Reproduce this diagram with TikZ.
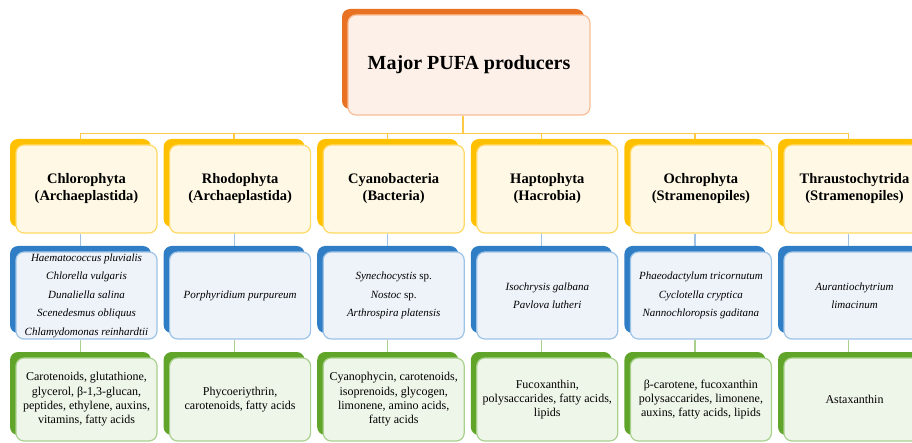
\documentclass[tikz,border=0pt]{standalone}
\usepackage{fontspec}
\setmainfont{Liberation Serif}
\usetikzlibrary{shadows,backgrounds}
\definecolor{topback}{RGB}{233,114,34}
\definecolor{topfill}{RGB}{253,240,232}
\definecolor{topline}{RGB}{248,190,150}
\definecolor{yelback}{RGB}{255,192,0}
\definecolor{yelfill}{RGB}{254,248,228}
\definecolor{yelline}{RGB}{255,217,102}
\definecolor{yelconn}{RGB}{255,200,70}
\definecolor{bluback}{RGB}{46,125,197}
\definecolor{blufill}{RGB}{238,243,250}
\definecolor{bluline}{RGB}{157,195,230}
\definecolor{grnback}{RGB}{96,165,42}
\definecolor{grnfill}{RGB}{238,245,233}
\definecolor{grnline}{RGB}{169,209,142}
\tikzset{
  box/.style={rounded corners=8pt, line width=1.2pt, align=center,
    minimum width=141pt, inner sep=0pt},
  topbox/.style={box, draw=topline, fill=topfill, minimum width=242pt,
    minimum height=100pt, font=\fontsize{20}{24}\selectfont\bfseries,
    general shadow={fill=topback, shadow xshift=-6pt, shadow yshift=6pt}},
  groupbox/.style={box, draw=yelline, fill=yelfill, minimum height=88pt,
    font=\fontsize{14.5}{17}\selectfont\bfseries,
    general shadow={fill=yelback, shadow xshift=-6pt, shadow yshift=6pt}},
  speciesbox/.style={box, draw=bluline, fill=blufill, minimum height=87pt,
    font=\fontsize{11}{18.5}\selectfont\itshape,
    general shadow={fill=bluback, shadow xshift=-6pt, shadow yshift=6pt}},
  productbox/.style={box, draw=grnline, fill=grnfill, minimum height=83pt,
    font=\fontsize{12}{14.3}\selectfont,
    general shadow={fill=grnback, shadow xshift=-6pt, shadow yshift=6pt}},
}
\begin{document}
\begin{tikzpicture}[x=1pt,y=-1pt]
\useasboundingbox (0,0) rectangle (912,443);
\clip (0,0) rectangle (912,443);
% top
\node[topbox] (top) at (469,65) {Major PUFA producers};
% groups
\node[groupbox] (g1) at (86.5,189)  {Chlorophyta\\(Archaeplastida)};
\node[groupbox] (g2) at (240.1,189) {Rhodophyta\\(Archaeplastida)};
\node[groupbox] (g3) at (393.7,189) {Cyanobacteria\\(Bacteria)};
\node[groupbox] (g4) at (547.3,189) {Haptophyta\\(Hacrobia)};
\node[groupbox] (g5) at (700.9,189) {Ochrophyta\\(Stramenopiles)};
\node[groupbox] (g6) at (854.5,189) {Thraustochytrida\\(Stramenopiles)};
% species
\node[speciesbox] (s1) at (86.5,295.5)  {Haematococcus pluvialis\\Chlorella vulgaris\\Dunaliella salina\\Scenedesmus obliquus\\Chlamydomonas reinhardtii};
\node[speciesbox] (s2) at (240.1,295.5) {Porphyridium purpureum};
\node[speciesbox] (s3) at (393.7,295.5) {Synechocystis \textup{sp.}\\Nostoc \textup{sp.}\\Arthrospira platensis};
\node[speciesbox] (s4) at (547.3,295.5) {Isochrysis galbana\\Pavlova lutheri};
\node[speciesbox] (s5) at (700.9,295.5) {Phaeodactylum tricornutum\\Cyclotella cryptica\\Nannochloropsis gaditana};
\node[speciesbox] (s6) at (854.5,295.5) {Aurantiochytrium\\limacinum};
% products
\node[productbox] (p1) at (86.5,399.5)  {Carotenoids, glutathione,\\glycerol, β-1,3-glucan,\\peptides, ethylene, auxins,\\vitamins, fatty acids};
\node[productbox] (p2) at (240.1,399.5) {Phycoeriythrin,\\carotenoids, fatty acids};
\node[productbox] (p3) at (393.7,399.5) {Cyanophycin, carotenoids,\\isoprenoids, glycogen,\\limonene, amino acids,\\fatty acids};
\node[productbox] (p4) at (547.3,399.5) {Fucoxanthin,\\polysaccarides, fatty acids,\\lipids};
\node[productbox] (p5) at (700.9,399.5) {β-carotene, fucoxanthin\\polysaccarides, limonene,\\auxins, fatty acids, lipids};
\node[productbox] (p6) at (854.5,399.5) {Astaxanthin};
% connectors
\begin{scope}[on background layer]
\foreach \i in {1,...,6} {
  \draw[yelconn, line width=1.4pt] ([xshift=-6pt]top.south) -- ++(0,18) -| ([xshift=-6pt]g\i.north);
  \draw[bluline, line width=1.2pt] ([xshift=-6pt]g\i.south) -- ([xshift=-6pt]s\i.north);
  \draw[grnline, line width=1.2pt] ([xshift=-6pt]s\i.south) -- ([xshift=-6pt]p\i.north);
}
\end{scope}
\end{tikzpicture}
\end{document}
